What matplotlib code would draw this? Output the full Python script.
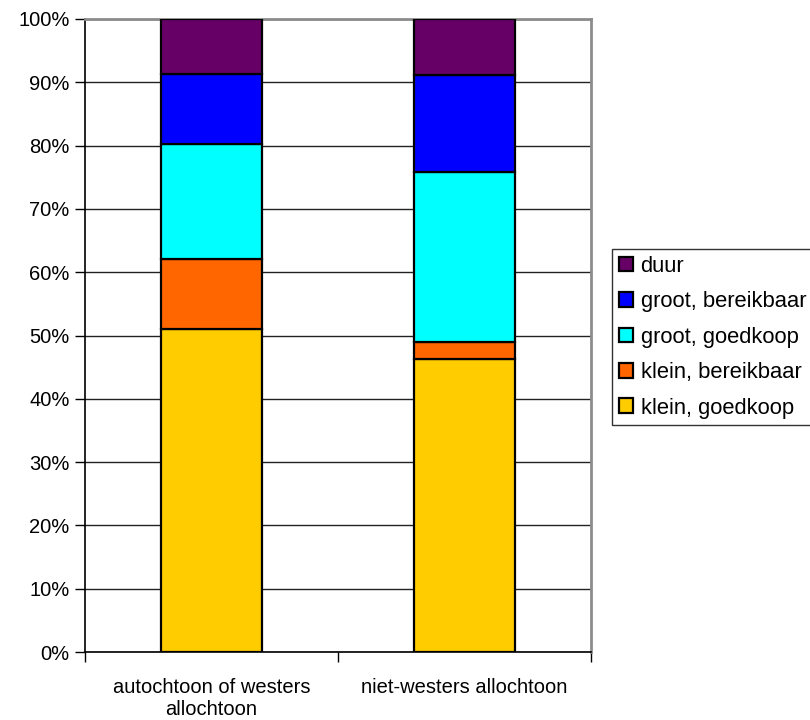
import matplotlib
matplotlib.use("Agg")
import matplotlib.pyplot as plt
from matplotlib.ticker import FixedLocator, FuncFormatter, NullFormatter

plt.rcParams['font.family'] = ['Liberation Sans', 'DejaVu Sans']

# Share of households per dwelling type (percent of each group)
groups = ["autochtoon of westers\nallochtoon", "niet-westers allochtoon"]
series_names = ["klein, goedkoop", "klein, bereikbaar", "groot, goedkoop",
                "groot, bereikbaar", "duur"]
klein_goedkoop = [51.0, 46.3]
klein_bereikbaar = [11.1, 2.7]
groot_goedkoop = [18.2, 26.8]
groot_bereikbaar = [11.0, 15.4]
duur = [8.7, 8.8]
series_values = [klein_goedkoop, klein_bereikbaar, groot_goedkoop,
                 groot_bereikbaar, duur]
colors = ["#FFCC00", "#FF6600", "#00FFFF", "#0000FF", "#660066"]

fig = plt.figure(figsize=(8.1, 7.2), dpi=100)
ax = fig.add_axes([85 / 810, 1 - 652 / 720, (591 - 85) / 810, (652 - 19) / 720])

x = list(range(len(groups)))
totals = [sum(v[i] for v in series_values) for i in range(len(groups))]
bottoms = [0.0] * len(groups)
handles = []
for name, vals, col in zip(series_names, series_values, colors):
    shares = [vals[i] / totals[i] * 100 for i in range(len(groups))]
    h = ax.bar(x, shares, width=0.4, bottom=bottoms, color=col,
               edgecolor="black", linewidth=1.6, label=name, zorder=3)
    handles.append(h)
    bottoms = [b + s for b, s in zip(bottoms, shares)]

ax.set_xlim(-0.5, 1.5)
ax.set_ylim(0, 100)

# y axis: percentage ticks with horizontal gridlines
ax.yaxis.set_major_locator(FixedLocator(range(0, 101, 10)))
ax.yaxis.set_major_formatter(FuncFormatter(lambda v, p: f"{int(v)}%"))
ax.grid(axis="y", color="#222222", linewidth=1.0, zorder=0)
ax.tick_params(axis="y", direction="out", length=7, width=1, color="black",
               labelsize=14.5, pad=4)

# x axis: tick marks between categories, labels centred under bars
ax.xaxis.set_major_locator(FixedLocator([-0.5, 0.5, 1.5]))
ax.xaxis.set_major_formatter(NullFormatter())
ax.xaxis.set_minor_locator(FixedLocator(x))
ax.set_xticklabels(groups, minor=True)
ax.tick_params(axis="x", which="major", direction="out", length=7, width=1,
               color="black")
ax.tick_params(axis="x", which="minor", length=0, labelsize=14.5, pad=19)
for lbl in ax.get_xticklabels(minor=True):
    lbl.set_linespacing(1.2)

for side in ("top", "right"):
    ax.spines[side].set_color("#8c8c8c")
    ax.spines[side].set_linewidth(2)
for side in ("left", "bottom"):
    ax.spines[side].set_color("black")
    ax.spines[side].set_linewidth(1.2)

leg = fig.legend(handles[::-1], series_names[::-1],
                 loc="upper left", bbox_to_anchor=(612 / 810, 1 - 249 / 720),
                 fontsize=15.8, frameon=True, fancybox=False,
                 edgecolor="black", handlelength=0.65, handleheight=0.65,
                 handletextpad=0.35, labelspacing=0.66, borderpad=0.3,
                 borderaxespad=0)
leg.get_frame().set_linewidth(1.0)
for patch in leg.get_patches():
    patch.set_edgecolor("black")
    patch.set_linewidth(1.6)

fig.savefig("out.png", dpi=100)
